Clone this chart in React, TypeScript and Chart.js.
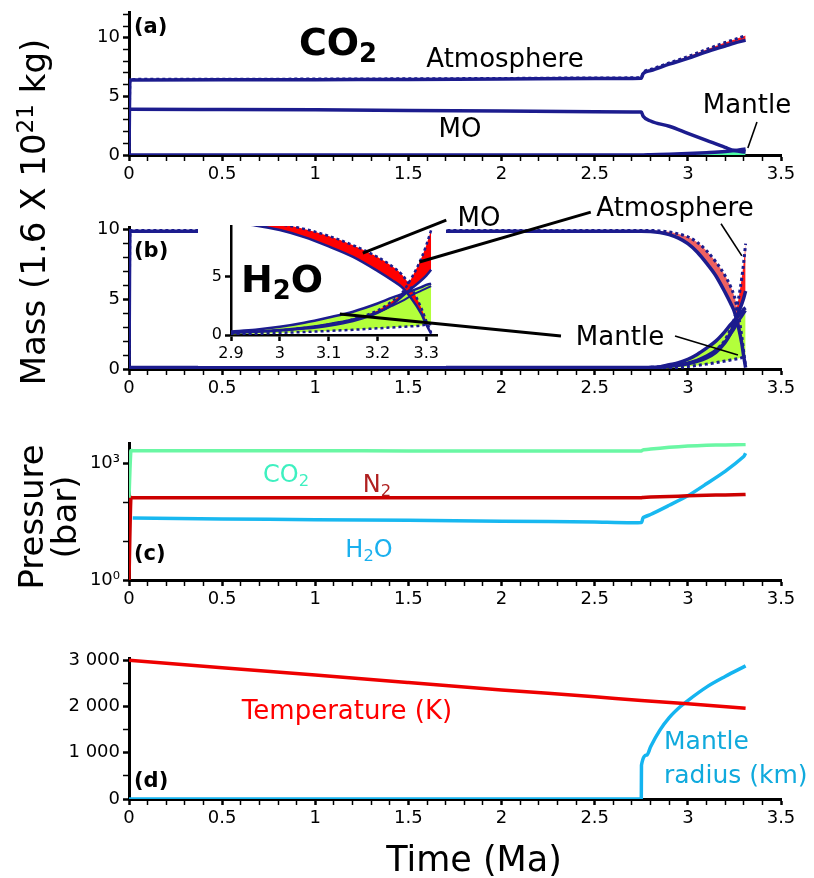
import React, { useEffect, useRef } from 'react';
import { Chart, registerables } from 'chart.js';

Chart.register(...registerables);

const W = 814;
const FONT = "'DejaVu Sans', sans-serif";
const NAVY = '#1c1c8e';

// ---------- Panel (a): CO2 masses ----------
const tA = [0, 0.005, 0.5, 1, 1.5, 2, 2.5, 2.75, 2.76, 2.8, 2.9, 3.0, 3.1, 3.2, 3.25, 3.31];
const atmosA = [0, 6.4, 6.41, 6.43, 6.45, 6.48, 6.52, 6.55, 6.95, 7.2, 7.75, 8.25, 8.8, 9.3, 9.55, 9.8];
const atmosHiA = [0, 6.45, 6.46, 6.48, 6.5, 6.53, 6.57, 6.6, 7.0, 7.3, 7.85, 8.4, 9.0, 9.6, 9.85, 10.2];
const moA = [3.9, 3.9, 3.88, 3.85, 3.8, 3.75, 3.7, 3.66, 3.31, 2.9, 2.45, 1.85, 1.25, 0.65, 0.38, 0.25];
const mantleA = [0, 0, 0, 0, 0, 0, 0, 0, 0, 0.02, 0.06, 0.12, 0.2, 0.3, 0.38, 0.52];

// ---------- Panel (b) + inset: H2O masses ----------
const tB = [0, 0.005, 0.5, 1, 1.5, 2, 2.5, 2.75, 2.8, 2.85, 2.9, 2.95, 3.0, 3.05, 3.1, 3.15, 3.2, 3.23, 3.25, 3.27, 3.29, 3.3, 3.31];
const moB = [0, 9.9, 9.9, 9.9, 9.9, 9.9, 9.9, 9.9, 9.88, 9.8, 9.65, 9.4, 9.0, 8.4, 7.6, 6.7, 5.5, 4.7, 4.1, 3.1, 1.8, 0.9, 0.1];
const moHiB = [0, 9.95, 9.95, 9.95, 9.95, 9.95, 9.95, 9.95, 9.95, 9.92, 9.85, 9.7, 9.5, 9.1, 8.5, 7.7, 6.7, 5.9, 5.2, 4.0, 2.3, 1.2, 0.2];
const atmosB = [0.1, 0.1, 0.1, 0.1, 0.1, 0.1, 0.1, 0.1, 0.12, 0.15, 0.2, 0.27, 0.38, 0.55, 0.8, 1.2, 1.9, 2.6, 3.3, 4.0, 4.7, 5.1, 5.6];
const atmosHiB = [0.1, 0.1, 0.1, 0.1, 0.1, 0.1, 0.1, 0.1, 0.12, 0.15, 0.2, 0.28, 0.4, 0.6, 0.9, 1.35, 2.1, 2.9, 3.6, 4.9, 6.6, 7.7, 9.0];
const mantleB = [0, 0, 0, 0, 0, 0, 0, 0, 0.05, 0.15, 0.3, 0.45, 0.7, 1.05, 1.5, 2.0, 2.7, 3.2, 3.5, 3.8, 4.1, 4.3, 4.4];
const mantleMidB = [0, 0, 0, 0, 0, 0, 0, 0, 0.03, 0.1, 0.2, 0.3, 0.45, 0.65, 0.95, 1.35, 1.95, 2.5, 2.9, 3.4, 3.8, 4.0, 4.2];
const mantleLoB = [0, 0, 0, 0, 0, 0, 0, 0, 0, 0.02, 0.05, 0.1, 0.18, 0.26, 0.35, 0.45, 0.57, 0.65, 0.7, 0.75, 0.82, 0.88, 0.95];

// ---------- Panel (c): partial pressures (bar) ----------
const tC = [0, 0.01, 0.02, 0.5, 1, 1.5, 2, 2.5, 2.75, 2.76, 2.8, 2.9, 3.0, 3.1, 3.2, 3.3, 3.31];
const co2C = [130, 2100, 2100, 2090, 2080, 2070, 2060, 2060, 2060, 2200, 2300, 2550, 2750, 2880, 2950, 3000, 3010];
const n2C = [1, 130, 130, 130, 130, 130, 130, 130, 130, 132, 135, 140, 145, 150, 153, 157, 158];
const h2oC = [null, null, 39, 37, 35.5, 34, 32.5, 31, 30, 40, 48, 83, 145, 295, 615, 1480, 1800];
const pressureTicks = [1, 10, 100, 1000];
const pressureTickLabels = ['10⁰', '', '', '10³'];

// ---------- Panel (d): temperature and mantle radius ----------
const tTemp = [0, 0.5, 1, 1.5, 2, 2.5, 2.75, 3.0, 3.31];
const temperature = [3000, 2840, 2680, 2520, 2360, 2210, 2130, 2060, 1965];
const tRadius = [0, 2.75, 2.751, 2.78, 2.8, 2.85, 2.9, 2.96, 3.0, 3.1, 3.2, 3.31];
const radius = [0, 0, 730, 950, 1130, 1490, 1760, 2000, 2130, 2420, 2650, 2880];
const dTicks = [0, 500, 1000, 1500, 2000, 2500, 3000];
const dTickLabels = ['0', '', '1 000', '', '2 000', '', '3 000'];

// pointer lines (data coordinates of the chart they are drawn in)
const insetPointers = [
  { from: [3.341, 9.85], to: [3.17, 7.03], w: 3 },
  { from: [3.637, 10.54], to: [3.286, 6.26], w: 3 },
  { from: [3.576, -0.09], to: [3.123, 1.8], w: 3 },
];
const panelBPointers = [
  { from: [3.178, 10.43], to: [3.29, 8.13], w: 1.6 },
  { from: [2.931, 2.37], to: [3.269, 1.0], w: 1.6 },
];
const panelAPointers = [{ from: [3.371, 2.82], to: [3.322, 0.6], w: 1.6 }];

const pts = (xs: number[], ys: (number | null)[]) => xs.map((x, i) => ({ x, y: ys[i] }));
const isMult = (v: number, m: number) => v != null && Math.abs(v / m - Math.round(v / m)) < 1e-6;
const fmtDec = (v: number) => String(Math.round(v * 10) / 10);

function baseAxis(bw: number, majorTest: (v: number) => boolean) {
  return {
    border: { display: true, color: '#000', width: bw },
    grid: {
      display: true,
      drawOnChartArea: false,
      drawTicks: true,
      tickLength: 6,
      tickColor: '#000',
      tickWidth: (ctx: any) => (ctx.tick && majorTest(ctx.tick.value) ? 2.5 : 1.5),
    },
  };
}

function linAxis(min: number, max: number, step: number, major: number, fmt: (v: number) => string, size: number, bw: number) {
  return {
    type: 'linear',
    min,
    max,
    ...baseAxis(bw, (v) => isMult(v, major)),
    ticks: {
      stepSize: step,
      autoSkip: false,
      includeBounds: false,
      maxRotation: 0,
      minRotation: 0,
      padding: 3,
      color: '#000',
      font: { family: FONT, size },
      callback: (v: any) => (isMult(Number(v), major) ? fmt(Number(v)) : ''),
    },
  };
}

function fixedAxis(type: string, min: number, max: number, values: number[], labels: string[], size: number, bw: number) {
  return {
    type,
    min,
    max,
    ...baseAxis(bw, (v) => labels[values.indexOf(v)] !== ''),
    afterBuildTicks: (s: any) => { s.ticks = values.map((value) => ({ value })); },
    ticks: {
      autoSkip: false,
      padding: 3,
      color: '#000',
      font: { family: FONT, size },
      callback: (_v: any, i: number) => labels[i] ?? '',
    },
  };
}

function pointerPlugin(list: { from: number[]; to: number[]; w: number }[]) {
  return {
    id: 'pointers',
    afterDraw(chart: any) {
      const { ctx, scales } = chart;
      ctx.save();
      ctx.strokeStyle = '#000';
      ctx.lineCap = 'butt';
      for (const p of list) {
        ctx.lineWidth = p.w;
        ctx.beginPath();
        ctx.moveTo(scales.x.getPixelForValue(p.from[0]), scales.y.getPixelForValue(p.from[1]));
        ctx.lineTo(scales.x.getPixelForValue(p.to[0]), scales.y.getPixelForValue(p.to[1]));
        ctx.stroke();
      }
      ctx.restore();
    },
  };
}

const whiteBoxPlugin = {
  id: 'whiteBox',
  beforeDraw(chart: any) {
    const a = chart.chartArea;
    const ctx = chart.ctx;
    ctx.save();
    ctx.fillStyle = '#fff';
    ctx.fillRect(a.left - 33, a.top - 10, a.right - a.left + 42, a.bottom - a.top + 41);
    ctx.restore();
  },
};

type Box = { top: number; height: number };
type Area = { left: number; top: number; right: number; bottom: number };

function buildChart(canvas: HTMLCanvasElement, box: Box, area: Area, yW: number, xH: number, datasets: any[], xScale: any, yScale: any, plugins: any[] = []) {
  canvas.width = W;
  canvas.height = box.height;
  const padding = {
    left: area.left - yW,
    right: W - area.right,
    top: area.top - box.top,
    bottom: box.top + box.height - area.bottom - xH,
  };
  return new Chart(canvas, {
    type: 'line',
    data: { datasets },
    options: {
      responsive: false,
      animation: false,
      devicePixelRatio: 1,
      events: [],
      layout: { padding },
      plugins: {
        legend: { display: false },
        tooltip: { enabled: false },
        filler: { drawTime: 'beforeDatasetsDraw' },
      },
      elements: {
        point: { radius: 0 },
        line: { cubicInterpolationMode: 'monotone', borderCapStyle: 'butt', borderJoinStyle: 'round' },
      },
      scales: {
        x: { ...xScale, afterFit: (s: any) => { s.height = xH; } },
        y: { ...yScale, afterFit: (s: any) => { s.width = yW; } },
      },
    } as any,
    plugins,
  });
}

const solid = (data: any, color: string, w: number, extra: any = {}) => ({ data, borderColor: color, borderWidth: w, fill: false, ...extra });
const dashed = (data: any, color: string, w: number, extra: any = {}) => ({ data, borderColor: color, borderWidth: w, borderDash: [3, 3], fill: false, ...extra });

const BOX_A = { top: -10, height: 210 };
const BOX_B = { top: 200, height: 220 };
const BOX_C = { top: 420, height: 210 };
const BOX_D = { top: 630, height: 215 };

const AREA_A = { left: 129, right: 781, top: 12, bottom: 155 };
const AREA_B = { left: 129, right: 781, top: 227, bottom: 369 };
const AREA_INSET = { left: 231, right: 437, top: 226, bottom: 335 };
const AREA_C = { left: 129, right: 781, top: 443, bottom: 580 };
const AREA_D = { left: 129, right: 781, top: 658, bottom: 799 };

function massDatasets(w: number, dw: number, red: string, redBand: string) {
  return [
    dashed(pts(tB, moHiB), NAVY, dw, { fill: { target: 1 }, backgroundColor: redBand }),
    solid(pts(tB, moB), NAVY, w),
    dashed(pts(tB, atmosHiB), NAVY, dw, { fill: { target: 3 }, backgroundColor: red }),
    solid(pts(tB, atmosB), NAVY, w),
    solid(pts(tB, mantleB), NAVY, w, { fill: { target: 6 }, backgroundColor: '#b3ff3b' }),
    solid(pts(tB, mantleMidB), NAVY, w * 0.8),
    dashed(pts(tB, mantleLoB), NAVY, dw),
  ];
}

const T = ({ x, y, size, color = '#000', bold = false, align = 'center', children }: any) => (
  <div
    style={{
      position: 'absolute',
      left: x,
      top: y - 0.846 * size,
      fontFamily: FONT,
      fontSize: size,
      lineHeight: `${size}px`,
      fontWeight: bold ? 'bold' : 'normal',
      color,
      whiteSpace: 'nowrap',
      transform: align === 'center' ? 'translateX(-50%)' : 'none',
      zIndex: 10,
    }}
  >
    {children}
  </div>
);

const RT = ({ x, y, size, children }: any) => (
  <div
    style={{
      position: 'absolute',
      left: x,
      top: y,
      fontFamily: FONT,
      fontSize: size,
      lineHeight: `${size}px`,
      whiteSpace: 'nowrap',
      transform: 'translate(-50%, -50%) rotate(-90deg)',
      zIndex: 10,
    }}
  >
    {children}
  </div>
);

const Sub = ({ children }: any) => <span style={{ fontSize: '0.68em', position: 'relative', top: '0.28em' }}>{children}</span>;
const Sup = ({ children }: any) => <span style={{ fontSize: '0.68em', position: 'relative', top: '-0.5em' }}>{children}</span>;

export default function App() {
  const refA = useRef<HTMLCanvasElement>(null);
  const refB = useRef<HTMLCanvasElement>(null);
  const refI = useRef<HTMLCanvasElement>(null);
  const refC = useRef<HTMLCanvasElement>(null);
  const refD = useRef<HTMLCanvasElement>(null);

  useEffect(() => {
    const xMain = () => linAxis(0, 3.5, 0.1, 0.5, fmtDec, 18, 3);
    const charts: Chart[] = [];

    charts.push(
      buildChart(refA.current!, BOX_A, AREA_A, 80, 40, [
        dashed(pts(tA, atmosHiA), NAVY, 3, { fill: { target: 1 }, backgroundColor: '#ff1a1a' }),
        solid(pts(tA, atmosA), NAVY, 3.5),
        solid(pts(tA, moA), NAVY, 3.5),
        solid(pts(tA, mantleA), NAVY, 3.5, { fill: 'origin', backgroundColor: '#4dffa6' }),
      ], xMain(), linAxis(0, 12.2, 1, 5, (v) => String(v), 18, 3), [pointerPlugin(panelAPointers)])
    );

    charts.push(
      buildChart(refB.current!, BOX_B, AREA_B, 80, 40, massDatasets(3.5, 3, '#ff1a1a', 'rgba(236,80,80,0.9)'),
        xMain(), linAxis(0, 10.2, 1, 5, (v) => String(v), 18, 3), [pointerPlugin(panelBPointers)])
    );

    charts.push(
      buildChart(refI.current!, BOX_B, AREA_INSET, 30, 30, massDatasets(2.5, 2.5, '#ff0000', '#ff0000'),
        linAxis(2.9, 3.322, 0.1, 0.1, fmtDec, 16, 2.5), linAxis(0, 9.35, 5, 5, (v) => String(v), 16, 2.5),
        [whiteBoxPlugin, pointerPlugin(insetPointers)])
    );

    charts.push(
      buildChart(refC.current!, BOX_C, AREA_C, 80, 40, [
        solid(pts(tC, co2C), '#6af7a4', 3.5, { cubicInterpolationMode: 'default', tension: 0.2 }),
        solid(pts(tC, n2C), '#cc0000', 3.5, { cubicInterpolationMode: 'default', tension: 0.2 }),
        solid(pts(tC, h2oC), '#18b8f0', 3.5, { cubicInterpolationMode: 'default', tension: 0.2 }),
      ], xMain(), fixedAxis('logarithmic', 1, 3300, pressureTicks, pressureTickLabels, 18, 3))
    );

    charts.push(
      buildChart(refD.current!, BOX_D, AREA_D, 80, 40, [
        solid(pts(tTemp, temperature), '#ee0000', 3.5),
        solid(pts(tRadius, radius), '#14b4f0', 3.5),
      ], xMain(), fixedAxis('linear', 0, 3050, dTicks, dTickLabels, 18, 3))
    );

    return () => charts.forEach((c) => c.destroy());
  }, []);

  const cv = (box: Box, z: number) => ({ position: 'absolute' as const, left: 0, top: box.top, width: W, height: box.height, zIndex: z });

  return (
    <div style={{ position: 'absolute', left: 0, top: 0, width: W, height: 878, background: '#fff', overflow: 'hidden' }}>
      <canvas ref={refA} style={cv(BOX_A, 1)} />
      <canvas ref={refB} style={cv(BOX_B, 2)} />
      <canvas ref={refI} style={cv(BOX_B, 3)} />
      <canvas ref={refC} style={cv(BOX_C, 1)} />
      <canvas ref={refD} style={cv(BOX_D, 1)} />

      <RT x={35} y={212} size={34}>Mass (1.6 X 10<Sup>21</Sup> kg)</RT>
      <RT x={31} y={517} size={34}>Pressure</RT>
      <RT x={64} y={517} size={34}>(bar)</RT>
      <T x={474} y={872} size={35}>Time (Ma)</T>

      <T x={134} y={34} size={21} bold align="left">(a)</T>
      <T x={338} y={55} size={38} bold>CO<Sub>2</Sub></T>
      <T x={505} y={67} size={26}>Atmosphere</T>
      <T x={460} y={137} size={26}>MO</T>
      <T x={747} y={113} size={26}>Mantle</T>

      <T x={134} y={258} size={21} bold align="left">(b)</T>
      <T x={282} y={292} size={38} bold>H<Sub>2</Sub>O</T>
      <T x={479} y={226} size={26}>MO</T>
      <T x={675} y={216} size={26}>Atmosphere</T>
      <T x={620} y={345} size={26}>Mantle</T>

      <T x={134} y={561} size={21} bold align="left">(c)</T>
      <T x={286} y={482} size={24} color="#3ef0c0">CO<Sub>2</Sub></T>
      <T x={377} y={492} size={24} color="#b02020">N<Sub>2</Sub></T>
      <T x={369} y={557} size={24} color="#1ab0ee">H<Sub>2</Sub>O</T>

      <T x={134} y={788} size={21} bold align="left">(d)</T>
      <T x={347} y={719} size={26} color="#ff0000">Temperature (K)</T>
      <T x={664} y={749} size={25} color="#10aadd" align="left">Mantle</T>
      <T x={664} y={783} size={25} color="#10aadd" align="left">radius (km)</T>
    </div>
  );
}
